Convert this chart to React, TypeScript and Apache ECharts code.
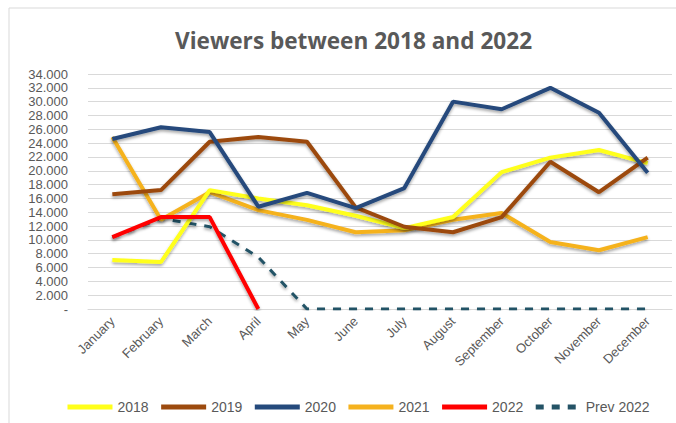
import React, { useEffect, useRef } from "react";
import * as echarts from "echarts";

const months = ["January", "February", "March", "April", "May", "June", "July", "August", "September", "October", "November", "December"];
const v2018 = [7100, 6800, 17200, 16000, 15000, 13500, 11700, 13300, 19800, 21900, 23000, 21100];
const v2019 = [16600, 17200, 24200, 24900, 24200, 14700, 11900, 11100, 13300, 21300, 16900, 21900];
const v2020 = [24600, 26300, 25600, 14800, 16800, 14600, 17500, 30000, 28900, 32000, 28400, 19700];
const v2021 = [24900, 12900, 16900, 14300, 12900, 11100, 11400, 12900, 13900, 9700, 8500, 10400];
const v2022 = [10400, 13300, 13300, 0, null, null, null, null, null, null, null, null];
const prev2022 = [10400, 13100, 11900, 7500, 0, 0, 0, 0, 0, 0, 0, 0];

const FONT = "'Liberation Sans Narrow', 'Liberation Sans', sans-serif";
const GRAY = "#595959";

export default function App() {
  const ref = useRef<HTMLDivElement>(null);
  useEffect(() => {
    if (!ref.current) return;
    const chart = echarts.init(ref.current, null, { renderer: "svg" });
    const shadow = { shadowBlur: 3, shadowColor: "rgba(0,0,0,0.35)", shadowOffsetY: 2 };
    const mk = (name: string, data: (number | null)[], color: string, extra: any = {}) => ({
      name,
      type: "line",
      data,
      symbol: "none",
      lineStyle: { color, width: 4, ...shadow, ...extra },
      itemStyle: { color },
      z: 2,
    });
    chart.setOption({
      animation: false,
      backgroundColor: "#fff",
      textStyle: { fontFamily: FONT },
      title: {
        text: "Viewers between 2018 and 2022",
        left: 170,
        top: 24,
        textStyle: { fontFamily: "'Open Sans', sans-serif", fontWeight: "bold", fontSize: 22.6, color: GRAY },
      },
      graphic: [
        { type: "rect", shape: { x: 9, y: 8, width: 700, height: 460 }, style: { fill: "none", stroke: "#d9d9d9", lineWidth: 1 }, silent: true },
      ],
      grid: { left: 88, right: 4, top: 74, bottom: 114 },
      legend: {
        top: 395,
        left: 60,
        itemWidth: 45,
        itemHeight: 10,
        itemGap: 10,
        itemStyle: { color: "transparent", borderWidth: 0, opacity: 0 },
        lineStyle: { width: 5, shadowBlur: 0, shadowOffsetY: 0 },
        textStyle: { fontFamily: FONT, fontSize: 14, color: GRAY },
        data: ["2018", "2019", "2020", "2021", "2022", "Prev 2022"],
      },
      xAxis: {
        type: "category",
        data: months,
        boundaryGap: true,
        axisLine: { show: true, lineStyle: { color: "#d9d9d9" } },
        axisTick: { show: false },
        axisLabel: { rotate: 45, color: GRAY, fontSize: 13, fontFamily: FONT, interval: 0, margin: 10 },
      },
      yAxis: {
        type: "value",
        min: 0,
        max: 34000,
        interval: 2000,
        axisLine: { show: false },
        axisTick: { show: false },
        splitLine: { lineStyle: { color: "#d9d9d9" } },
        axisLabel: {
          color: GRAY,
          fontSize: 13,
          fontFamily: FONT,
          margin: 20,
          formatter: (v: number) => (v === 0 ? "-" : (v / 1000).toFixed(3)),
        },
      },
      series: [
        mk("Prev 2022", prev2022, "#245366", { type: [8, 8], width: 3 }),
        mk("2021", v2021, "#F5B21E"),
        mk("2018", v2018, "#FFFF1A"),
        mk("2019", v2019, "#9C4A0E"),
        mk("2020", v2020, "#254A7C"),
        mk("2022", v2022, "#FF0000"),
      ],
    });
    return () => chart.dispose();
  }, []);
  return <div ref={ref} style={{ width: 676, height: 423, position: "absolute", left: 0, top: 0 }} />;
}
